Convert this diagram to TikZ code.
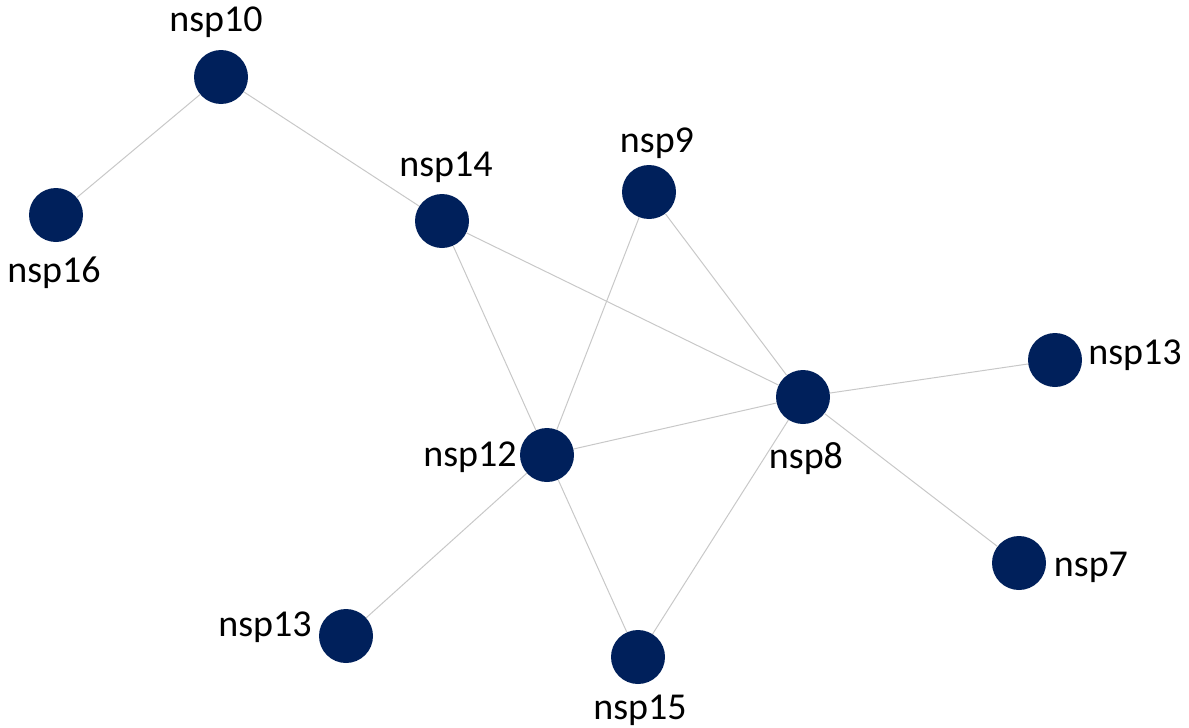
\documentclass[tikz,border=0pt]{standalone}
\usepackage{fontspec}
\setmainfont{Carlito}
\definecolor{navy}{HTML}{00205B}
\definecolor{edgegray}{HTML}{C8C8C8}
\begin{document}
\begin{tikzpicture}[x=1pt,y=-1pt,
  prot/.style={circle,fill=navy,minimum size=54pt,inner sep=0pt},
  lbl/.style={font=\fontsize{38}{40}\selectfont,text=black,inner sep=0pt},
  link/.style={draw=edgegray,line width=1pt}]
\useasboundingbox (0,0) rectangle (1189,728);
\node[prot] (n10) at (221,77) {};
\node[prot] (n16) at (56,215) {};
\node[prot] (n14) at (442,221) {};
\node[prot] (n9) at (649,192) {};
\node[prot] (n13r) at (1055,360) {};
\node[prot] (n8) at (803,397) {};
\node[prot] (n12) at (547,455) {};
\node[prot] (n7) at (1019,563) {};
\node[prot] (n13l) at (346,636) {};
\node[prot] (n15) at (638,657) {};
\begin{scope}[on background layer/.style={}]
\end{scope}
\node[lbl] (l10) at (216,22) {nsp10};
\node[lbl] (l16) at (54,273) {nsp16};
\node[lbl] (l14) at (446,167) {nsp14};
\node[lbl] (l9) at (657,143) {nsp9};
\node[lbl] (l13r) at (1135,355) {nsp13};
\node[lbl] (l8) at (806,459) {nsp8};
\node[lbl] (l12) at (470,457) {nsp12};
\node[lbl] (l7) at (1091,567) {nsp7};
\node[lbl] (l13l) at (265,627) {nsp13};
\node[lbl] (l15) at (640,710) {nsp15};
\draw[link] (n10) -- (n16);
\draw[link] (n10) -- (n14);
\draw[link] (n14) -- (n8);
\draw[link] (n14) -- (n12);
\draw[link] (n9) -- (n12);
\draw[link] (n9) -- (n8);
\draw[link] (n8) -- (n13r);
\draw[link] (n8) -- (n12);
\draw[link] (n8) -- (n7);
\draw[link] (n8) -- (n15);
\draw[link] (n12) -- (n15);
\draw[link] (n12) -- (n13l);
\end{tikzpicture}
\end{document}
